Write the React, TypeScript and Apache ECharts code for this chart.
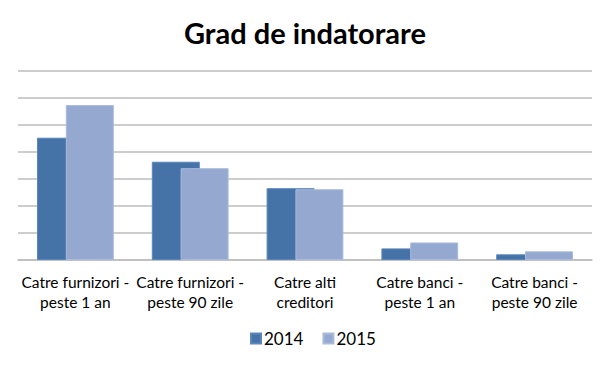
import React, { useEffect, useRef } from "react";
import * as echarts from "echarts";

const categories = [
  "Catre furnizori -\npeste 1 an",
  "Catre furnizori -\npeste 90 zile",
  "Catre alti\ncreditori",
  "Catre banci -\npeste 1 an",
  "Catre banci -\npeste 90 zile",
];
const seriesNames = ["2014", "2015"];
const values2014 = [45.3, 36.4, 26.6, 4.3, 2.1];
const values2015 = [57.4, 34.0, 26.2, 6.5, 3.2];

export default function App() {
  const ref = useRef<HTMLDivElement>(null);
  useEffect(() => {
    const chart = echarts.init(ref.current!, null, { renderer: "svg" });
    const font = "Lato, 'Noto Sans', sans-serif";
    chart.setOption({
      animation: false,
      backgroundColor: "#ffffff",
      title: {
        text: "Grad de indatorare",
        left: "center",
        top: 13,
        textStyle: { fontFamily: font, fontSize: 29, fontWeight: "bold", color: "#000" },
      },
      legend: {
        data: seriesNames,
        bottom: 19,
        left: 250,
        padding: 0,
        itemWidth: 10,
        itemHeight: 10,
        itemGap: 19,
        icon: "rect",
        textStyle: { fontFamily: font, fontSize: 17, color: "#000", padding: [0, 0, 0, -2] },
      },
      grid: { left: 18, right: 18, top: 71, bottom: 106 },
      xAxis: {
        type: "category",
        data: categories,
        axisLine: { lineStyle: { color: "#BDBDBD", width: 1.5 } },
        axisTick: { show: false },
        axisLabel: {
          fontFamily: font,
          fontSize: 15.5,
          color: "#000",
          lineHeight: 20,
          margin: 12,
          interval: 0,
        },
      },
      yAxis: {
        type: "value",
        min: 0,
        max: 70,
        interval: 10,
        axisLabel: { show: false },
        axisLine: { show: false },
        axisTick: { show: false },
        splitLine: { lineStyle: { color: "#BDBDBD", width: 1.5 } },
      },
      series: [
        {
          name: seriesNames[0],
          type: "bar",
          data: values2014,
          barWidth: 48,
          barGap: "-40%",
          itemStyle: { color: "#4572A7", borderColor: "#5A86BC", borderWidth: 1 },
        },
        {
          name: seriesNames[1],
          type: "bar",
          data: values2015,
          barWidth: 48,
          itemStyle: { color: "#94A8D0", borderColor: "#A9BBDC", borderWidth: 1 },
        },
      ],
    });
    return () => chart.dispose();
  }, []);
  return <div ref={ref} style={{ width: 610, height: 366, position: "absolute", left: 0, top: 0 }} />;
}
